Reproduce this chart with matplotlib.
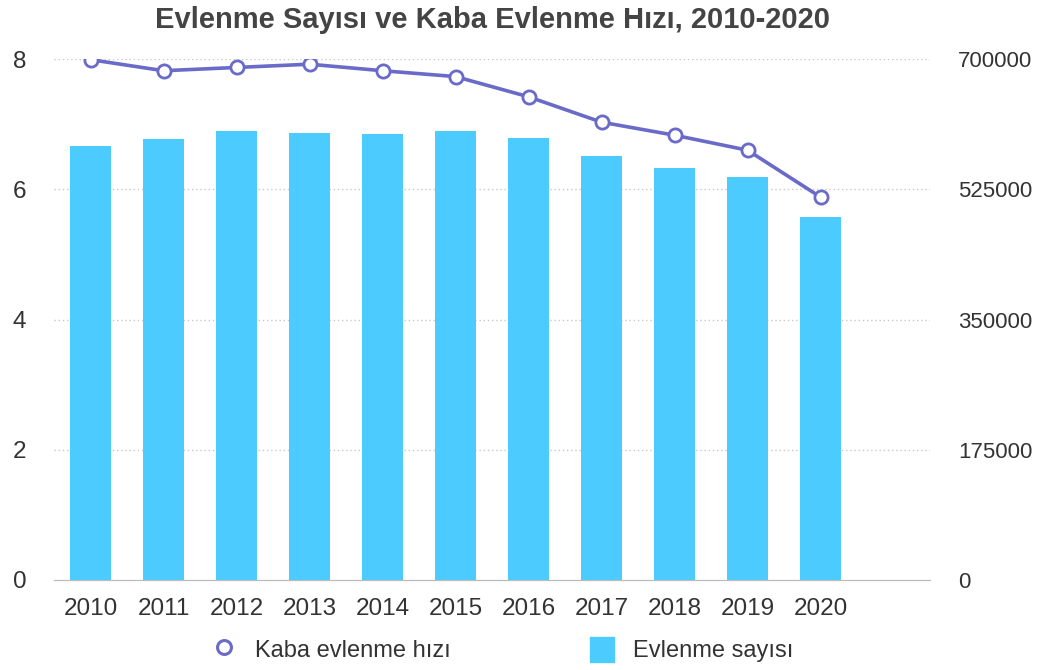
import matplotlib
matplotlib.use("Agg")
import matplotlib.pyplot as plt
from matplotlib.lines import Line2D
from matplotlib.patches import Patch

plt.rcParams['font.family'] = ['Liberation Sans', 'DejaVu Sans']

years = ['2010', '2011', '2012', '2013', '2014', '2015', '2016', '2017', '2018', '2019', '2020']
marriages = [582715, 592775, 603751, 600138, 599704, 602982, 594493, 569459, 553202, 541424, 487270]
crude_rate = [7.99, 7.82, 7.87, 7.92, 7.82, 7.73, 7.42, 7.03, 6.83, 6.60, 5.88]

bar_color = '#4ccbff'
line_color = '#6a6ac8'
text_color = '#333333'

fig = plt.figure(figsize=(10.54, 6.7), dpi=100)
ax = fig.add_axes([54 / 1054, 90 / 670, 876 / 1054, 521 / 670])
ax2 = ax.twinx()

x = list(range(len(years)))

# bars on the right axis (counts)
ax2.bar(x, marriages, width=0.55, color=bar_color, zorder=2)
ax2.set_ylim(0, 700000)
ax2.set_yticks([0, 175000, 350000, 525000, 700000])
ax2.set_yticklabels(['0', '175000', '350000', '525000', '700000'])

# line on the left axis (rate)
ax.plot(x, crude_rate, color=line_color, linewidth=2.6, marker='o', markersize=9.5,
        markerfacecolor='white', markeredgecolor=line_color, markeredgewidth=2, zorder=5)
ax.set_ylim(0, 8)
ax.set_yticks([0, 2, 4, 6, 8])
ax.set_xlim(-0.5, 11.5)
ax.set_xticks(x)
ax.set_xticklabels(years)

# draw line above bars
ax.set_zorder(ax2.get_zorder() + 1)
ax.patch.set_visible(False)

for a in (ax, ax2):
    for s in ('top', 'left', 'right'):
        a.spines[s].set_visible(False)
    a.spines['bottom'].set_color('#bbbbbb')
    a.tick_params(length=0, labelsize=17.5, colors=text_color)

ax.tick_params(axis='y', pad=20)
ax2.tick_params(axis='y', pad=20, labelsize=16)
ax.tick_params(axis='x', pad=13)

for v in [2, 4, 6, 8]:
    ax2.axhline(v * 87500, color='#c8c8c8', linestyle=(0, (1, 2)), linewidth=1, zorder=1)

ax.set_title('Evlenme Sayısı ve Kaba Evlenme Hızı, 2010-2020', fontsize=21,
             fontweight='bold', color='#444444', pad=22)

handles = [
    Line2D([], [], color=line_color, marker='o', linestyle='none', markersize=10,
           markerfacecolor='white', markeredgewidth=2.2),
    Patch(color=bar_color),
]
fig.legend(handles, ['Kaba evlenme hızı', 'Evlenme sayısı'], loc='center',
           bbox_to_anchor=(0.477, 0.03), ncol=2, frameon=False, fontsize=17,
           columnspacing=5.9, handlelength=1.0, handleheight=1.2, labelcolor=text_color)

plt.savefig('out.png', dpi=100)
